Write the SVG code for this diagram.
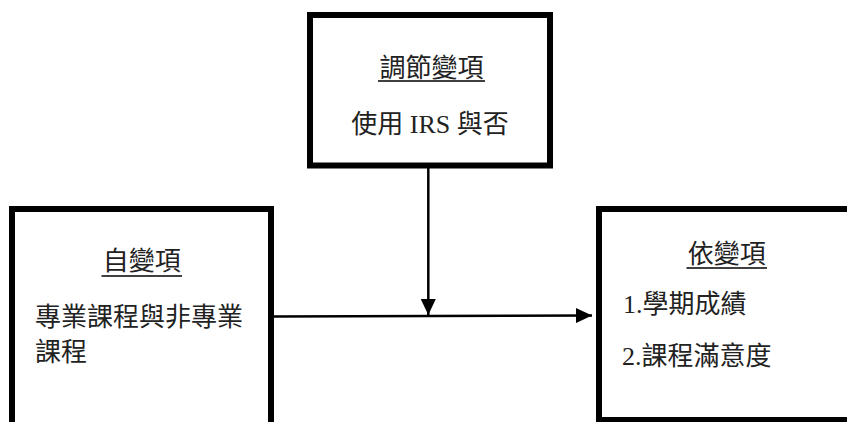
<svg xmlns="http://www.w3.org/2000/svg" width="847" height="422" viewBox="0 0 847 422">
<style>
.box{fill:#fff;stroke:#000;stroke-width:6}
.t{font-family:"Liberation Serif","Noto Sans CJK TC",serif;font-size:26px;fill:#222}
.ul{stroke:#000;stroke-width:1.5}
.c{stroke:#000;stroke-width:2.5;fill:none}
</style>
<defs>
<marker id="ah" markerWidth="16" markerHeight="15" refX="16" refY="7.5" orient="auto" markerUnits="userSpaceOnUse">
<path d="M0,0 L16,7.5 L0,15 Z" fill="#000"/>
</marker>
</defs>
<rect width="847" height="422" fill="#fff"/>
<g id="moderator">
<rect class="box" x="310" y="15" width="240" height="150.5"/>
<text class="t" x="431.5" y="77" text-anchor="middle">調節變項</text>
<line class="ul" x1="378" y1="81" x2="485" y2="81"/>
<text class="t" x="430" y="133" text-anchor="middle">使用 IRS 與否</text>
</g>
<g id="independent">
<rect class="box" x="12" y="209" width="259" height="230"/>
<text class="t" x="141.7" y="270" text-anchor="middle">自變項</text>
<line class="ul" x1="101.5" y1="276" x2="182" y2="276"/>
<text class="t" x="35" y="326">專業課程與非專業</text>
<text class="t" x="35" y="361">課程</text>
</g>
<g id="dependent">
<rect class="box" x="599" y="209" width="270" height="211"/>
<text class="t" x="726.7" y="263" text-anchor="middle">依變項</text>
<line class="ul" x1="686.5" y1="268" x2="767" y2="268"/>
<text class="t" x="623" y="313">1.學期成績</text>
<text class="t" x="622" y="365">2.課程滿意度</text>
</g>
<g id="connectors">
<line class="c" x1="274" y1="316.5" x2="592" y2="315.5" marker-end="url(#ah)"/>
<line class="c" x1="428.3" y1="168" x2="428.3" y2="315" marker-end="url(#ah)"/>
</g>
</svg>
